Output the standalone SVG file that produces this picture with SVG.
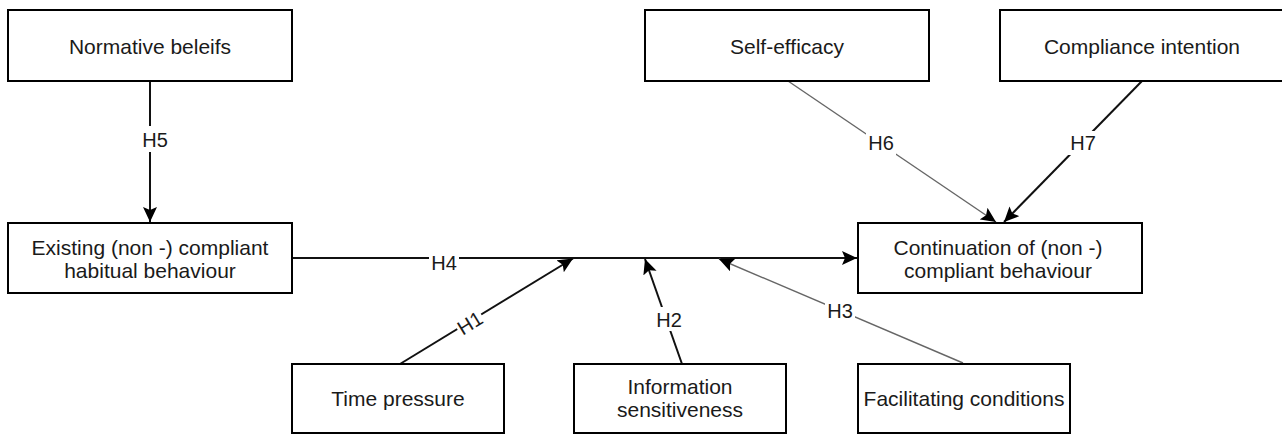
<svg xmlns="http://www.w3.org/2000/svg" width="1282" height="435" viewBox="0 0 1282 435">
<defs>
<style>
.box{fill:#fff;stroke:#000;stroke-width:2}
.t{font-family:"Liberation Sans",Arial,Helvetica,sans-serif;font-size:21px;fill:#1a1a1a;text-anchor:middle}
.lbl{font-family:"Liberation Sans",Arial,Helvetica,sans-serif;font-size:20px;fill:#1a1a1a;text-anchor:middle}
.e{fill:none;stroke:#111;stroke-width:2}
.eg{fill:none;stroke:#666;stroke-width:1.4}
.bg{fill:#fff}
</style>
<marker id="arr" markerUnits="userSpaceOnUse" markerWidth="16" markerHeight="15" refX="15" refY="7" orient="auto">
<path d="M0,0 L15,7 L0,14 L3,7 Z" fill="#000"/>
</marker>
</defs>
<rect width="1282" height="435" fill="#fff"/>
<g id="connectors">
<line class="e" x1="150" y1="81" x2="150" y2="222" marker-end="url(#arr)"/>
<line class="e" x1="292" y1="258" x2="857" y2="258" marker-end="url(#arr)"/>
<line class="e" x1="400" y1="364" x2="573" y2="258.5" marker-end="url(#arr)"/>
<line class="e" x1="682" y1="364" x2="645" y2="259" marker-end="url(#arr)"/>
<line class="eg" x1="963" y1="363" x2="719" y2="259" marker-end="url(#arr)"/>
<line class="eg" x1="788" y1="81" x2="996" y2="222" marker-end="url(#arr)"/>
<line class="e" x1="1142" y1="81" x2="1004" y2="222" marker-end="url(#arr)"/>
<rect class="bg" x="137" y="126" width="28" height="26"/>
<text class="lbl" x="155" y="147">H5</text>
<rect class="bg" x="429" y="255" width="30" height="17"/>
<text class="lbl" x="444" y="270">H4</text>
<g transform="translate(470,323) rotate(-31.5)">
<rect class="bg" x="-14" y="-11" width="28" height="22"/>
<text class="lbl" x="0" y="7">H1</text>
</g>
<rect class="bg" x="654" y="307" width="30" height="24"/>
<text class="lbl" x="669" y="327">H2</text>
<rect class="bg" x="825" y="299" width="30" height="24"/>
<text class="lbl" x="840" y="318">H3</text>
<rect class="bg" x="866" y="131" width="30" height="24"/>
<text class="lbl" x="881" y="150">H6</text>
<rect class="bg" x="1068" y="131" width="30" height="24"/>
<text class="lbl" x="1083" y="150">H7</text>
</g>
<g id="normative">
<rect class="box" x="8" y="10" width="284" height="71"/>
<text class="t" x="150" y="54">Normative beleifs</text>
</g>
<g id="existing">
<rect class="box" x="8" y="223" width="284" height="70"/>
<text class="t" x="150" y="255">Existing (non -) compliant</text>
<text class="t" x="150" y="278">habitual behaviour</text>
</g>
<g id="selfefficacy">
<rect class="box" x="645" y="10" width="284" height="71"/>
<text class="t" x="787" y="54">Self-efficacy</text>
</g>
<g id="compliance">
<rect class="box" x="1000" y="10" width="284" height="71"/>
<text class="t" x="1142" y="54">Compliance intention</text>
</g>
<g id="continuation">
<rect class="box" x="858" y="223" width="284" height="70"/>
<text class="t" x="998" y="255">Continuation of (non -)</text>
<text class="t" x="998" y="278">compliant behaviour</text>
</g>
<g id="timepressure">
<rect class="box" x="292" y="364" width="212" height="69"/>
<text class="t" x="398" y="406">Time pressure</text>
</g>
<g id="information">
<rect class="box" x="574" y="364" width="212" height="69"/>
<text class="t" x="680" y="394">Information</text>
<text class="t" x="680" y="417">sensitiveness</text>
</g>
<g id="facilitating">
<rect class="box" x="858" y="364" width="212" height="69"/>
<text class="t" x="964" y="406">Facilitating conditions</text>
</g>
</svg>
